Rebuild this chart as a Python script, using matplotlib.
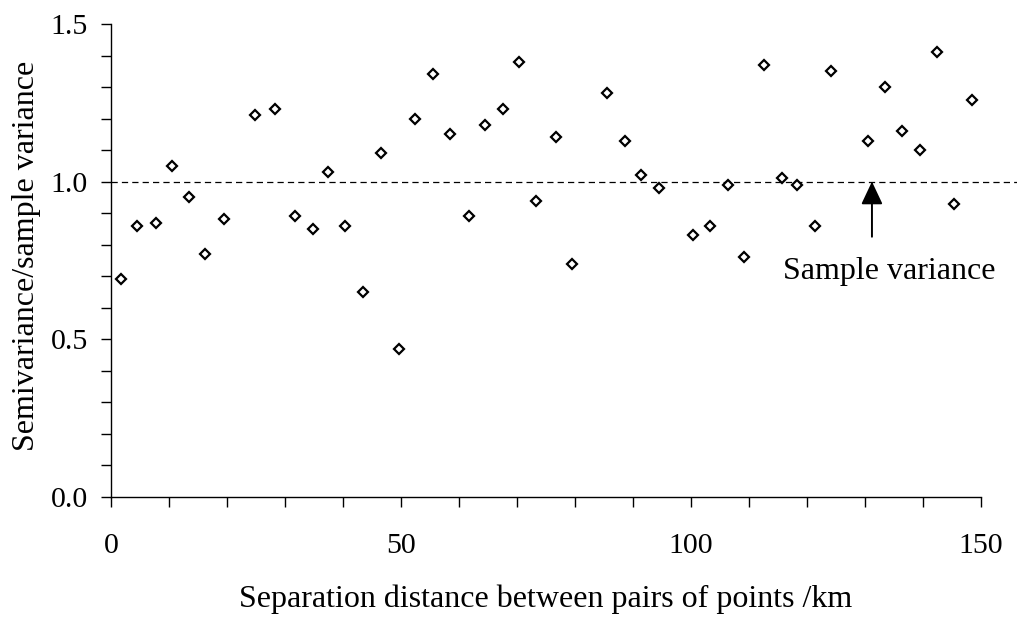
import matplotlib
matplotlib.use("Agg")
import matplotlib.pyplot as plt
from matplotlib.ticker import MultipleLocator

# separation distance (km) and semivariance / sample variance
distance = [1.7, 4.5, 7.8, 10.5, 13.5, 16.3, 19.5, 24.9, 28.2, 31.8,
            34.8, 37.5, 40.3, 43.4, 46.6, 49.7, 52.5, 55.6, 58.4, 61.7,
            64.5, 67.6, 70.3, 73.3, 76.7, 79.5, 85.5, 88.7, 91.4, 94.4,
            100.4, 103.2, 106.3, 109.2, 112.6, 115.7, 118.2, 121.3, 124.1, 130.6,
            133.4, 136.3, 139.4, 142.4, 145.3, 148.4]
ratio = [0.69, 0.86, 0.87, 1.05, 0.95, 0.77, 0.88, 1.21, 1.23, 0.89,
         0.85, 1.03, 0.86, 0.65, 1.09, 0.47, 1.20, 1.34, 1.15, 0.89,
         1.18, 1.23, 1.38, 0.94, 1.14, 0.74, 1.28, 1.13, 1.02, 0.98,
         0.83, 0.86, 0.99, 0.76, 1.37, 1.01, 0.99, 0.86, 1.35, 1.13,
         1.30, 1.16, 1.10, 1.41, 0.93, 1.26]
sample_var = 1.0
arrow_x = 131.2
arrow_tail = 0.825
label_text = "Sample variance"

plt.rcParams["font.family"] = ["Liberation Serif", "DejaVu Serif"]

fig = plt.figure(figsize=(10.17, 6.17), dpi=100)
ax = fig.add_axes([0.1091, 0.195, 0.8555, 0.766])

ax.plot(distance, ratio, linestyle="none", marker="D", markersize=4.6,
        markerfacecolor="white", markeredgecolor="black", markeredgewidth=1.6,
        clip_on=False, zorder=3)

# reference line for the sample variance, running past the plot edge
ax.axhline(sample_var, xmin=0, xmax=1.041, color="black", lw=0.9,
           linestyle=(0, (5, 3.3)), clip_on=False, zorder=2)

ax.annotate("", xy=(arrow_x, sample_var), xytext=(arrow_x, arrow_tail),
            arrowprops=dict(arrowstyle="-|>,head_length=0.7,head_width=0.33",
                            mutation_scale=20, color="black", lw=1.4,
                            shrinkA=0, shrinkB=0))
ax.text(134.1, 0.691, label_text, ha="center", va="baseline", fontsize=23)

ax.set_xlim(0, 150)
ax.set_ylim(0, 1.5)
ax.xaxis.set_major_locator(MultipleLocator(50))
ax.xaxis.set_minor_locator(MultipleLocator(10))
ax.yaxis.set_major_locator(MultipleLocator(0.5))
ax.yaxis.set_minor_locator(MultipleLocator(0.1))
ax.yaxis.set_major_formatter(matplotlib.ticker.FormatStrFormatter("%.1f"))

for side in ("top", "right"):
    ax.spines[side].set_visible(False)
for side in ("left", "bottom"):
    ax.spines[side].set_linewidth(1.0)

ax.tick_params(axis="both", which="both", direction="out", length=7.5,
               width=1.0, labelsize=21.5)
ax.tick_params(axis="x", which="major", pad=19)
ax.tick_params(axis="y", which="major", pad=9)

ax.set_xlabel("Separation distance between pairs of points /km", fontsize=23)
ax.set_ylabel("Semivariance/sample variance", fontsize=23)
ax.xaxis.set_label_coords(0.5, -0.186)
ax.yaxis.set_label_coords(-0.08, 0.51)

fig.savefig("out.png", dpi=100)
